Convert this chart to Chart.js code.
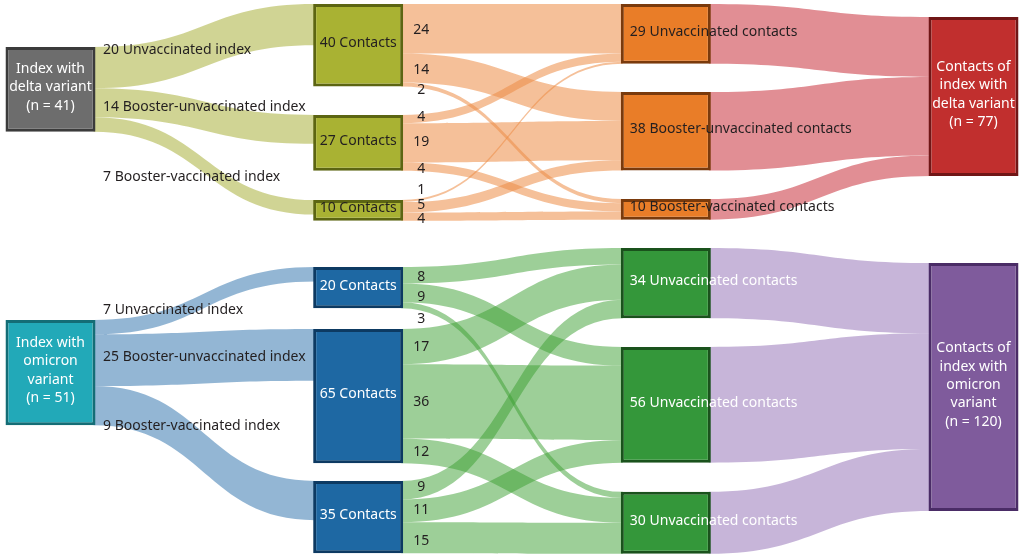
<!DOCTYPE html>
<html><head><meta charset="utf-8">
<script src="https://cdn.jsdelivr.net/npm/chart.js@4.4.1/dist/chart.umd.min.js"></script>
<style>html,body{margin:0;padding:0;background:#fff;overflow:hidden}canvas{display:block}</style>
</head><body><canvas id="c" width="1024" height="558"></canvas>
<script>
// ================= DATA =================
const indexGroups = ['Unvaccinated index', 'Booster-unvaccinated index', 'Booster-vaccinated index'];

// Delta variant
const deltaIndexTotal = 41;
const deltaIndexCounts = [20, 14, 7];
const deltaContactCounts = [40, 27, 10];
const deltaOutcomeLabels = ['Unvaccinated contacts', 'Booster-unvaccinated contacts', 'Booster-vaccinated contacts'];
const deltaOutcomeCounts = [29, 38, 10];
const deltaFlowsFrom40 = [24, 14, 2];
const deltaFlowsFrom27 = [4, 19, 4];
const deltaFlowsFrom10 = [1, 5, 4];
const deltaContactsTotal = 77;

// Omicron variant
const omicronIndexTotal = 51;
const omicronIndexCounts = [7, 25, 9];
const omicronIndexBandWidths = [7, 25, 19]; // band widths as drawn in the figure
const omicronContactCounts = [20, 65, 35];
const omicronOutcomeLabels = ['Unvaccinated contacts', 'Unvaccinated contacts', 'Unvaccinated contacts'];
const omicronOutcomeCounts = [34, 56, 30];
const omicronFlowsFrom20 = [8, 9, 3];
const omicronFlowsFrom65 = [17, 36, 12];
const omicronFlowsFrom35 = [9, 11, 15];
const omicronContactsTotal = 120;

// ================= LAYOUT / STYLE =================
const NODE_W = 90;
const FONT = '"Noto Sans", "Open Sans", sans-serif';
const DARK = '#231f20';

const sections = [
  {
    indexLines: ['Index with', 'delta variant', '(n = ' + deltaIndexTotal + ')'],
    totalLines: ['Contacts of', 'index with', 'delta variant', '(n = ' + deltaContactsTotal + ')'],
    indexTotal: deltaIndexTotal, indexCounts: deltaIndexCounts, bandWidths: deltaIndexCounts,
    contactCounts: deltaContactCounts, outcomeCounts: deltaOutcomeCounts, outcomeLabels: deltaOutcomeLabels,
    matrix: [deltaFlowsFrom40, deltaFlowsFrom27, deltaFlowsFrom10], total: deltaContactsTotal,
    tops: [[22.7], [1.9, 55.6, 96.8], [1.9, 44.5, 96.3], [8.2]],
    indexLabelY: [24.2, 51.8, 85.6],
    numOffsets: [1, 2.5, 5, -2, -1, 2, -11, -2.5, 2],
    fills: ['#6d6d6d', '#a9b233', '#e97d28', '#c12f2e'],
    borders: ['#3b3b3b', '#5c6512', '#7a3a0c', '#701616'],
    flowColors: ['rgba(170,176,60,0.55)', 'rgba(237,140,70,0.55)', 'rgba(200,50,60,0.55)'],
    textColors: ['#ffffff', DARK, DARK, '#ffffff']
  },
  {
    indexLines: ['Index with', 'omicron', 'variant', '(n = ' + omicronIndexTotal + ')'],
    totalLines: ['Contacts of', 'index with', 'omicron', 'variant', '(n = ' + omicronContactsTotal + ')'],
    indexTotal: omicronIndexTotal, indexCounts: omicronIndexCounts, bandWidths: omicronIndexBandWidths,
    contactCounts: omicronContactCounts, outcomeCounts: omicronOutcomeCounts, outcomeLabels: omicronOutcomeLabels,
    matrix: [omicronFlowsFrom20, omicronFlowsFrom65, omicronFlowsFrom35], total: omicronContactsTotal,
    tops: [[154.8], [129.2, 159.2, 232.7], [120, 167.9, 238], [127.3]],
    indexLabelY: [150, 172.7, 206.1],
    numOffsets: [1.5, 4, 14, 0.5, 0.5, 1, -3, -0.5, 3.5],
    fills: ['#22a9b8', '#1e68a3', '#34973a', '#7f5b9c'],
    borders: ['#146d76', '#0d3a62', '#1a521c', '#4a2c66'],
    flowColors: ['rgba(40,110,170,0.5)', 'rgba(60,160,50,0.5)', 'rgba(130,90,170,0.45)'],
    textColors: ['#ffffff', '#ffffff', '#ffffff', '#ffffff']
  }
];

// ============ build nodes, flows, labels ============
const nodes = [];
const flows = [];
const texts = [];

sections.forEach(s => {
  const addNode = (col, top, value, text) => {
    nodes.push({col, top, value, fill: s.fills[col], border: s.borders[col], text, color: s.textColors[col]});
  };
  addNode(0, s.tops[0][0], s.indexTotal, {lines: s.indexLines, mode: 'center'});
  s.contactCounts.forEach((v, i) => addNode(1, s.tops[1][i], v, {lines: [v + ' Contacts'], mode: 'center'}));
  s.outcomeCounts.forEach((v, i) => addNode(2, s.tops[2][i], v, {lines: [v + ' ' + s.outcomeLabels[i]], mode: 'left'}));
  addNode(3, s.tops[3][0], s.total, {lines: s.totalLines, mode: 'center'});

  // index -> contacts
  let src = s.tops[0][0];
  s.bandWidths.forEach((w, i) => {
    flows.push({c0: 0, c1: 1, s: src, t: s.tops[1][i], w, color: s.flowColors[0]});
    texts.push({kind: 'indexFlow', y: s.indexLabelY[i], text: s.indexCounts[i] + ' ' + indexGroups[i]});
    src += w;
  });
  // contacts -> outcomes
  const inOff = s.tops[2].slice();
  let k = 0;
  s.matrix.forEach((row, i) => {
    let so = s.tops[1][i];
    row.forEach((w, j) => {
      flows.push({c0: 1, c1: 2, s: so, t: inOff[j], w, color: s.flowColors[1]});
      texts.push({kind: 'num', yv: so + w / 2, dy: s.numOffsets[k++], text: String(w)});
      so += w;
      inOff[j] += w;
    });
  });
  // outcomes -> total
  let to = s.tops[3][0];
  s.outcomeCounts.forEach((w, j) => {
    flows.push({c0: 2, c1: 3, s: s.tops[2][j], t: to, w, color: s.flowColors[2]});
    to += w;
  });
});

const flowPlugin = {
  id: 'flows',
  beforeDatasetsDraw(chart) {
    const {ctx, scales: {x, y}} = chart;
    const half = NODE_W / 2;
    ctx.save();
    flows.forEach(f => {
      const x0 = x.getPixelForValue(f.c0) + half - 2;
      const x1 = x.getPixelForValue(f.c1) - half + 2;
      const xm = (x0 + x1) / 2;
      const a0 = y.getPixelForValue(f.s), b0 = y.getPixelForValue(f.s + f.w);
      const a1 = y.getPixelForValue(f.t), b1 = y.getPixelForValue(f.t + f.w);
      ctx.beginPath();
      ctx.moveTo(x0, a0);
      ctx.bezierCurveTo(xm, a0, xm, a1, x1, a1);
      ctx.lineTo(x1, b1);
      ctx.bezierCurveTo(xm, b1, xm, b0, x0, b0);
      ctx.closePath();
      ctx.fillStyle = f.color;
      ctx.fill();
    });
    ctx.restore();
  }
};

const labelPlugin = {
  id: 'labels',
  afterDatasetsDraw(chart) {
    const {ctx, scales: {x, y}} = chart;
    const half = NODE_W / 2;
    ctx.save();
    ctx.textBaseline = 'middle';
    nodes.forEach(n => {
      const cx = x.getPixelForValue(n.col);
      const cy = (y.getPixelForValue(n.top) + y.getPixelForValue(n.top + n.value)) / 2;
      const lines = n.text.lines;
      ctx.font = '14px ' + FONT;
      ctx.fillStyle = n.color;
      const lh = 18.3;
      if (n.text.mode === 'center') {
        ctx.textAlign = 'center';
        lines.forEach((l, i) => ctx.fillText(l, cx, cy - 2 + (i - (lines.length - 1) / 2) * lh));
      } else {
        ctx.textAlign = 'left';
        ctx.fillText(lines[0], cx - half + 9, cy - 2);
      }
    });
    ctx.font = '14px ' + FONT;
    ctx.fillStyle = DARK;
    texts.forEach(t => {
      if (t.kind === 'indexFlow') {
        ctx.textAlign = 'left';
        ctx.fillText(t.text, x.getPixelForValue(0) + half + 7.5, y.getPixelForValue(t.y));
      } else {
        ctx.textAlign = 'center';
        ctx.fillText(t.text, x.getPixelForValue(1) + half + 18, y.getPixelForValue(t.yv) + t.dy);
      }
    });
    ctx.restore();
  }
};

new Chart(document.getElementById('c'), {
  type: 'bar',
  data: {
    datasets: [{
      data: nodes.map(n => ({x: n.col, y: [n.top, n.top + n.value]})),
      backgroundColor: nodes.map(n => n.fill),
      borderColor: nodes.map(n => n.border),
      borderWidth: 3,
      borderSkipped: false,
      barThickness: NODE_W,
      inflateAmount: 0
    }]
  },
  options: {
    responsive: false,
    animation: false,
    layout: {padding: 0},
    plugins: {legend: {display: false}, tooltip: {enabled: false}, title: {display: false}},
    scales: {
      x: {type: 'linear', min: -0.1641, max: 3.1641, offset: false, display: false},
      y: {type: 'linear', min: 0, max: 270, reverse: true, display: false}
    }
  },
  plugins: [flowPlugin, labelPlugin]
});
</script>
</body></html>
